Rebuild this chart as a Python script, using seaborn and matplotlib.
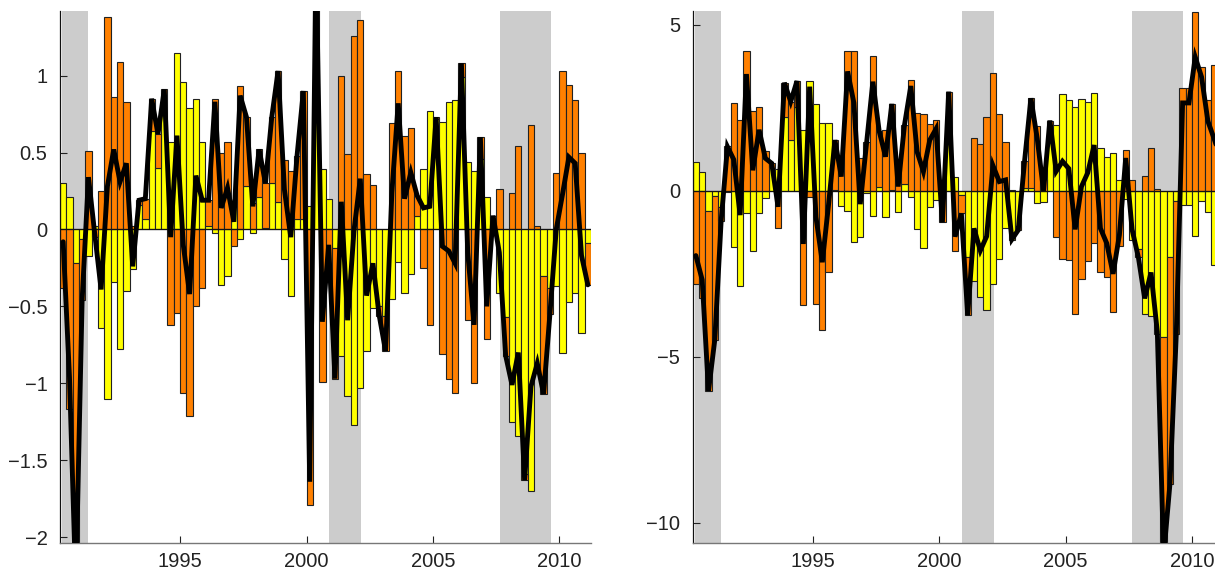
import numpy as np
import pandas as pd
import matplotlib
matplotlib.use("Agg")
import matplotlib.pyplot as plt
from matplotlib.ticker import FuncFormatter
import seaborn as sns

# Quarterly contributions, first quarter centred at 1990.375
start_year = 1990.375
quarter_step = 0.25

left_yellow = [0.30, 0.21, -0.22, -0.06, -0.17, 0.02, -0.64, -1.10, -0.34, -0.78,
               -0.40, -0.26, 0.16, 0.07, 0.64, 0.40, 0.80, 0.57, 1.15, 0.96,
               0.79, 0.85, 0.57, 0.02, -0.02, -0.36, -0.30, 0.16, -0.06, 0.28,
               -0.02, 0.21, 0.01, 0.30, 0.18, -0.19, -0.43, 0.07, 0.07, 0.15,
               0.77, 0.39, 0.20, -0.12, -0.82, -1.08, -1.27, -1.03, -0.79, -0.51,
               -0.50, -0.56, -0.45, -0.21, -0.41, -0.29, 0.09, 0.39, 0.77, 0.72,
               0.70, 0.83, 0.84, 0.99, 0.44, 0.38, 0.46, 0.21, 0.07, -0.41,
               -0.57, -1.25, -1.34, -1.59, -1.70, -0.89, -0.30, -0.38, -0.37, -0.80,
               -0.47, -0.41, -0.67, -0.09]
left_orange = [-0.38, -1.17, -2.10, -0.40, 0.51, -0.05, 0.25, 1.38, 0.86, 1.09,
               0.83, 0.02, 0.03, 0.13, 0.21, 0.22, 0.11, -0.62, -0.54, -1.06,
               -1.21, -0.50, -0.38, 0.17, 0.85, 0.50, 0.57, -0.11, 0.93, 0.45,
               0.17, 0.31, 0.29, 0.43, 0.85, 0.45, 0.38, 0.41, 0.83, -1.79,
               1.00, -0.99, -0.30, -0.85, 1.00, 0.49, 1.26, 1.36, 0.36, 0.29,
               -0.06, -0.23, 0.69, 1.03, 0.61, 0.66, 0.13, -0.25, -0.62, 0.01,
               -0.81, -0.97, -1.06, 0.09, -0.59, -1.00, 0.14, -0.71, 0.02, 0.26,
               -0.25, 0.24, 0.54, -0.04, 0.68, 0.02, -0.77, -0.17, 0.37, 1.03,
               0.94, 0.84, 0.50, -0.27]

right_yellow = [0.86, 0.56, -0.60, -0.15, -0.48, -0.02, -1.70, -2.87, -0.68, -1.80,
                -0.68, -0.23, 0.68, 0.65, 2.24, 1.53, 2.54, 1.84, 3.32, 2.62,
                2.04, 2.04, 0.02, -0.45, -0.60, -1.55, -1.40, -0.05, -0.76, 0.13,
                -0.79, 0.02, -0.63, 0.20, -0.18, -1.16, -1.73, -0.48, -0.27, -0.05,
                1.63, 0.42, -0.12, -1.98, -2.71, -3.21, -3.59, -2.80, -2.04, -1.13,
                -1.48, -1.05, 0.10, 0.10, -0.36, -0.35, 1.97, 1.97, 2.93, 2.74,
                2.54, 2.78, 2.67, 2.95, 1.30, 1.02, 1.15, 0.33, -0.25, -1.49,
                -1.75, -3.70, -3.76, -4.31, -4.40, -1.99, -0.31, -0.44, -0.44, -1.37,
                -0.31, -0.64, -2.24, -1.00]
right_orange = [-2.81, -3.24, -5.43, -4.33, -0.42, 1.35, 2.64, 2.14, 4.20, 2.42,
                2.52, 1.21, 0.15, -1.13, 1.02, 1.16, 0.77, -3.44, -0.18, -3.41,
                -4.19, -2.44, 1.51, 0.88, 4.20, 4.20, 1.00, 1.48, 4.05, 1.67,
                1.82, 2.60, 0.76, 1.78, 3.34, 2.34, 2.31, 2.01, 2.14, -0.90,
                1.36, -1.80, -0.56, -1.77, 1.58, 1.41, 2.22, 3.56, 2.32, 1.46,
                0.02, -0.13, 0.80, 2.69, 1.94, 0.35, 0.15, -1.38, -2.04, -2.07,
                -3.70, -2.65, -2.12, -1.57, -2.43, -2.60, -3.65, -1.66, 1.24, 0.33,
                -0.25, 0.46, 1.30, 0.06, -6.60, -6.83, -4.00, 3.09, 3.09, 5.40,
                3.74, 2.74, 3.80, 2.00]

recessions = [(1990.34, 1991.35), (2000.89, 2002.15), (2007.64, 2009.65)]
year_ticks = [1995, 2000, 2005, 2010]

left_ticks = [-2, -1.5, -1, -0.5, 0, 0.5, 1]
right_ticks = [-10, -5, 0, 5]

YELLOW = "#ffff00"
ORANGE = "#ff8000"
SHADE = "#cccccc"

sns.set_theme(style="white")
plt.rcParams["font.family"] = ["Liberation Sans", "DejaVu Sans"]
plt.rcParams["axes.unicode_minus"] = True

W, H = 1215, 571
fig = plt.figure(figsize=(W / 100, H / 100), dpi=100)
ax_left = fig.add_axes([60 / W, 27.7 / H, 531 / W, 532.3 / H])
ax_right = fig.add_axes([692.7 / W, 27.7 / H, 531 / W, 532.3 / H])


def fmt(v, _pos):
    s = "%g" % v
    return s.replace("-", "\u2212")


def draw_panel(ax, yellow, orange, ylim, yticks):
    yellow = np.asarray(yellow, dtype=float)
    orange = np.asarray(orange, dtype=float)
    t = start_year + quarter_step * np.arange(len(yellow))

    for a, b in recessions:
        ax.axvspan(a, b, color=SHADE, lw=0, zorder=0)

    # stacked bars: positives stack on positives, negatives on negatives
    ax.bar(t, yellow, width=quarter_step, color=YELLOW, edgecolor="#222222",
           linewidth=0.8, zorder=2)
    base = np.where(np.sign(orange) == np.sign(yellow), yellow, 0.0)
    ax.bar(t, orange, bottom=base, width=quarter_step, color=ORANGE,
           edgecolor="#222222", linewidth=0.8, zorder=2)
    ax.axhline(0, color="#111111", lw=0.9, zorder=3)

    total = pd.DataFrame({"t": t, "total": yellow + orange})
    sns.lineplot(data=total, x="t", y="total", ax=ax, color="black",
                 lw=3.5, zorder=4, solid_joinstyle="miter")

    ax.set_xlim(1990.25, 2011.25)
    ax.set_ylim(*ylim)
    ax.set_xticks(year_ticks)
    ax.set_yticks(yticks)
    ax.yaxis.set_major_formatter(FuncFormatter(fmt))
    ax.set_xlabel("")
    ax.set_ylabel("")
    ax.tick_params(axis="both", direction="in", length=5, width=0.8,
                   labelsize=14.5, colors="#222222", bottom=True, left=True)
    ax.tick_params(axis="x", pad=6)
    ax.tick_params(axis="y", pad=9)
    for side in ("top", "right"):
        ax.spines[side].set_visible(False)
    ax.spines["left"].set_color("#111111")
    ax.spines["left"].set_linewidth(0.9)
    ax.spines["bottom"].set_color("#777777")
    ax.spines["bottom"].set_linewidth(1.0)
    ax.grid(False)


draw_panel(ax_left, left_yellow, left_orange, (-2.04, 1.42), left_ticks)
draw_panel(ax_right, right_yellow, right_orange, (-10.62, 5.42), right_ticks)

fig.savefig("out.png", dpi=100)
